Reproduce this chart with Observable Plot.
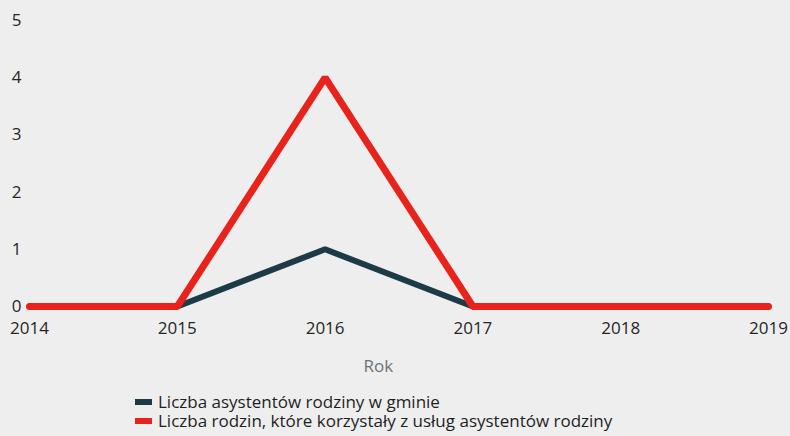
<!DOCTYPE html>
<html>
<head>
<meta charset="utf-8">
<script src="https://cdn.jsdelivr.net/npm/d3@7"></script>
<script src="https://cdn.jsdelivr.net/npm/@observablehq/plot@0.6"></script>
<style>
  html, body { margin: 0; padding: 0; background: #eeeeee; width: 790px; height: 436px; overflow: hidden; font-family: "Open Sans", sans-serif; }
  #legend { position: absolute; left: 135px; top: 393px; font-size: 17px; color: #1e1e1e; line-height: 18.5px; }
  .item { display: flex; align-items: center; height: 18.5px; }
  .sw { width: 17px; height: 6px; margin-right: 6px; }
</style>
</head>
<body>
<div id="chart"></div>
<div id="legend"></div>
<script>
const years = [2014, 2015, 2016, 2017, 2018, 2019];
const assistants = [0, 0, 1, 0, 0, 0];
const families = [0, 0, 4, 0, 0, 0];
const seriesNames = ["Liczba asystentów rodziny w gminie", "Liczba rodzin, które korzystały z usług asystentów rodziny"];
const seriesColors = ["#1d3a47", "#e8231b"];
const yTicks = [0, 1, 2, 3, 4, 5];
const xLabel = "Rok";

const data = [
  ...years.map((y, i) => ({year: y, value: assistants[i], series: seriesNames[0]})),
  ...years.map((y, i) => ({year: y, value: families[i], series: seriesNames[1]}))
];

const chart = Plot.plot({
  width: 790,
  height: 385,
  marginTop: 20,
  marginBottom: 79,
  marginLeft: 29,
  marginRight: 22,
  style: {background: "#eeeeee", fontFamily: "Open Sans, sans-serif", fontSize: "17px", color: "#222"},
  x: {type: "linear", domain: [2014, 2019], label: null},
  y: {domain: [0, 5], label: null},
  marks: [
    Plot.axisX({ticks: years, tickFormat: d => String(d), tickSize: 0, tickPadding: 15, fontSize: 17, fill: "#262626", label: null}),
    Plot.axisY({ticks: yTicks, tickFormat: d => String(d), tickSize: 0, tickPadding: 8, fontSize: 17, fill: "#262626", label: null}),
    Plot.text([xLabel], {x: () => 2016.36, y: () => 0, text: d => d, fill: "#6d727a", fontSize: 17, lineAnchor: "middle", dy: 60}),
    Plot.line(data.filter(d => d.series === seriesNames[0]), {x: "year", y: "value", stroke: seriesColors[0], strokeWidth: 6, strokeLinejoin: "miter"}),
    Plot.line(data.filter(d => d.series === seriesNames[1]), {x: "year", y: "value", stroke: seriesColors[1], strokeWidth: 7, strokeLinejoin: "miter"})
  ]
});
document.getElementById("chart").appendChild(chart);

const legend = document.getElementById("legend");
seriesNames.forEach((n, i) => {
  const item = document.createElement("div");
  item.className = "item";
  const sw = document.createElement("span");
  sw.className = "sw";
  sw.style.background = seriesColors[i];
  const t = document.createElement("span");
  t.textContent = n;
  item.appendChild(sw);
  item.appendChild(t);
  legend.appendChild(item);
});
</script>
</body>
</html>
